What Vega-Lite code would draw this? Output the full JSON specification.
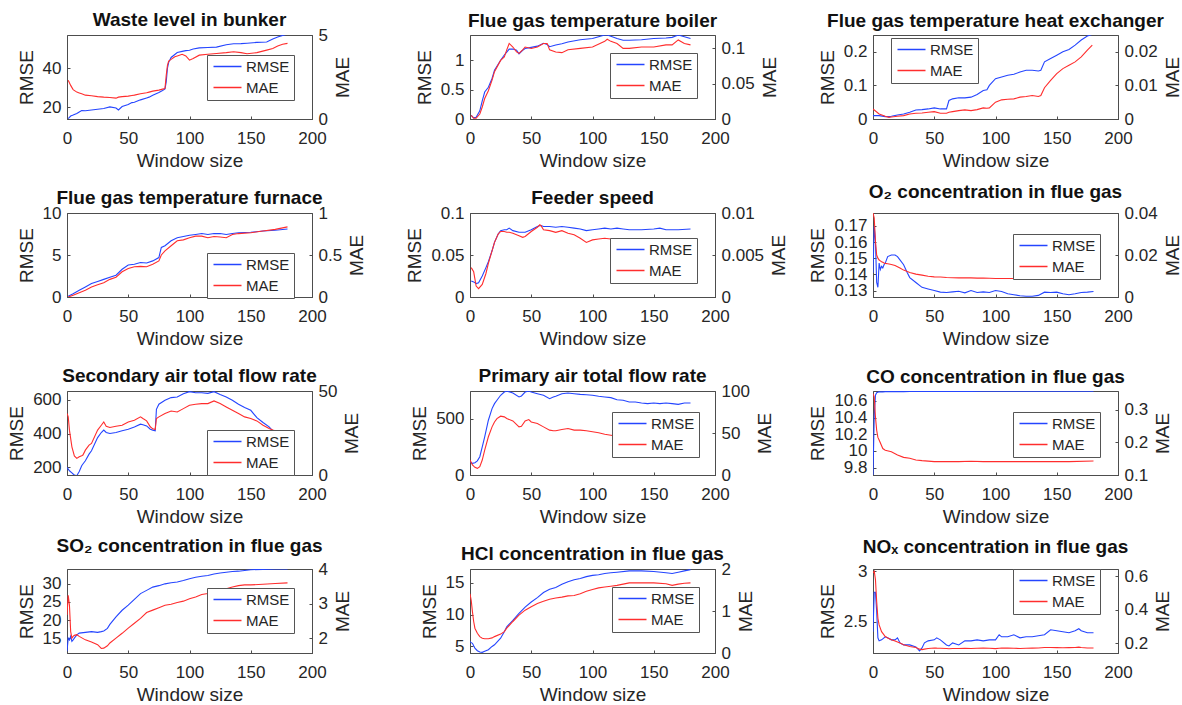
{
"$schema": "https://vega.github.io/schema/vega-lite/v6.json",
"padding": {"left": 7, "top": 10, "right": 2, "bottom": 2},
"bounds": "flush",
"columns": 3,
"spacing": {"row": 94, "column": 158},
"resolve": {"scale": {"color": "independent", "y": "independent", "x": "independent"}, "legend": {"color": "independent"}},
"config": {
  "font": "Liberation Sans",
  "view": {"stroke": "#4d4d4d", "strokeWidth": 1},
  "axis": {"grid": false, "labelFont": "Liberation Sans", "labelFontSize": 17, "labelColor": "#262626", "titleFont": "Liberation Sans", "titleFontSize": 19, "titleFontWeight": "normal", "titleColor": "#262626", "domainColor": "#4d4d4d", "tickColor": "#4d4d4d", "tickSize": -3, "labelFlush": false, "labelOverlap": false, "labelPadding": 9, "titlePadding": 6},
  "axisX": {"labelPadding": 14, "titlePadding": 5},
  "title": {"font": "Liberation Sans", "fontSize": 19, "fontWeight": "bold", "color": "#111111", "frame": "group", "anchor": "middle"},
  "legend": {"orient": "none", "fillColor": "white", "strokeColor": "#555555", "padding": 4, "symbolType": "M-1,0H4.6", "symbolSize": 100, "symbolStrokeWidth": 1.5, "labelFont": "Liberation Sans", "labelFontSize": 15, "labelColor": "#262626", "labelOffset": 20, "rowPadding": 5}
},
"datasets": {
"waste": [{"x":1,"rmse":14.2,"mae":2.3},{"x":3,"rmse":15.5,"mae":2.0},{"x":5,"rmse":16.0,"mae":1.75},{"x":8,"rmse":16.8,"mae":1.6},{"x":10,"rmse":17.6,"mae":1.55},{"x":12,"rmse":18.3,"mae":1.5},{"x":15,"rmse":18.2,"mae":1.42},{"x":20,"rmse":18.6,"mae":1.38},{"x":25,"rmse":19.0,"mae":1.33},{"x":30,"rmse":19.4,"mae":1.3},{"x":35,"rmse":20.2,"mae":1.28},{"x":40,"rmse":19.6,"mae":1.24},{"x":42,"rmse":18.6,"mae":1.3},{"x":45,"rmse":20.4,"mae":1.33},{"x":50,"rmse":21.4,"mae":1.36},{"x":53,"rmse":22.4,"mae":1.4},{"x":55,"rmse":22.6,"mae":1.42},{"x":60,"rmse":23.8,"mae":1.5},{"x":65,"rmse":24.8,"mae":1.56},{"x":67,"rmse":25.2,"mae":1.6},{"x":70,"rmse":26.2,"mae":1.66},{"x":75,"rmse":27.6,"mae":1.72},{"x":78,"rmse":28.6,"mae":1.78},{"x":80,"rmse":29.4,"mae":1.82},{"x":81,"rmse":33,"mae":2.6},{"x":82,"rmse":40,"mae":3.2},{"x":83,"rmse":43,"mae":3.45},{"x":85,"rmse":45.5,"mae":3.55},{"x":88,"rmse":47,"mae":3.7},{"x":90,"rmse":48,"mae":3.75},{"x":94,"rmse":48.6,"mae":3.85},{"x":97,"rmse":49,"mae":3.75},{"x":100,"rmse":49.2,"mae":3.5},{"x":103,"rmse":49.8,"mae":3.6},{"x":108,"rmse":50.4,"mae":3.8},{"x":115,"rmse":50.6,"mae":3.85},{"x":122,"rmse":50.8,"mae":3.9},{"x":130,"rmse":52,"mae":3.95},{"x":136,"rmse":52.5,"mae":4.0},{"x":142,"rmse":52.6,"mae":3.95},{"x":147,"rmse":52.8,"mae":3.88},{"x":155,"rmse":53.2,"mae":3.95},{"x":163,"rmse":53.4,"mae":4.1},{"x":168,"rmse":55,"mae":4.2},{"x":172,"rmse":56,"mae":4.35},{"x":176,"rmse":56.8,"mae":4.45},{"x":180,"rmse":57.5,"mae":4.5}],
"boiler": [{"x":1,"rmse":0.06,"mae":0.005},{"x":3,"rmse":0.02,"mae":0.001},{"x":5,"rmse":0.03,"mae":0.001},{"x":8,"rmse":0.14,"mae":0.007},{"x":10,"rmse":0.31,"mae":0.017},{"x":12,"rmse":0.46,"mae":0.029},{"x":15,"rmse":0.54,"mae":0.04},{"x":18,"rmse":0.69,"mae":0.055},{"x":20,"rmse":0.83,"mae":0.067},{"x":25,"rmse":1.0,"mae":0.083},{"x":28,"rmse":1.09,"mae":0.088},{"x":30,"rmse":1.14,"mae":0.098},{"x":32,"rmse":1.19,"mae":0.107},{"x":35,"rmse":1.19,"mae":0.102},{"x":38,"rmse":1.17,"mae":0.095},{"x":40,"rmse":1.11,"mae":0.093},{"x":43,"rmse":1.17,"mae":0.098},{"x":45,"rmse":1.2,"mae":0.102},{"x":50,"rmse":1.22,"mae":0.1},{"x":55,"rmse":1.24,"mae":0.102},{"x":60,"rmse":1.29,"mae":0.107},{"x":63,"rmse":1.27,"mae":0.107},{"x":65,"rmse":1.23,"mae":0.098},{"x":70,"rmse":1.26,"mae":0.095},{"x":75,"rmse":1.28,"mae":0.094},{"x":80,"rmse":1.31,"mae":0.098},{"x":90,"rmse":1.35,"mae":0.1},{"x":100,"rmse":1.37,"mae":0.102},{"x":110,"rmse":1.43,"mae":0.11},{"x":112,"rmse":1.43,"mae":0.113},{"x":115,"rmse":1.41,"mae":0.11},{"x":120,"rmse":1.37,"mae":0.107},{"x":125,"rmse":1.34,"mae":0.1},{"x":130,"rmse":1.34,"mae":0.1},{"x":140,"rmse":1.35,"mae":0.102},{"x":150,"rmse":1.37,"mae":0.102},{"x":160,"rmse":1.38,"mae":0.105},{"x":165,"rmse":1.39,"mae":0.105},{"x":170,"rmse":1.43,"mae":0.112},{"x":175,"rmse":1.4,"mae":0.107},{"x":180,"rmse":1.37,"mae":0.105}],
"exch": [{"x":0,"rmse":0.01,"mae":0.003},{"x":5,"rmse":0.01,"mae":0.0015},{"x":10,"rmse":0.007,"mae":0.0008},{"x":13,"rmse":0.007,"mae":0.0005},{"x":15,"rmse":0.008,"mae":0.0006},{"x":20,"rmse":0.012,"mae":0.0008},{"x":25,"rmse":0.015,"mae":0.001},{"x":30,"rmse":0.02,"mae":0.0015},{"x":35,"rmse":0.027,"mae":0.0017},{"x":40,"rmse":0.028,"mae":0.0018},{"x":45,"rmse":0.03,"mae":0.002},{"x":50,"rmse":0.033,"mae":0.0022},{"x":55,"rmse":0.03,"mae":0.0017},{"x":60,"rmse":0.03,"mae":0.0017},{"x":62,"rmse":0.055,"mae":0.002},{"x":65,"rmse":0.06,"mae":0.0022},{"x":70,"rmse":0.063,"mae":0.0025},{"x":75,"rmse":0.063,"mae":0.0027},{"x":80,"rmse":0.065,"mae":0.0025},{"x":85,"rmse":0.073,"mae":0.0028},{"x":90,"rmse":0.085,"mae":0.0033},{"x":93,"rmse":0.087,"mae":0.0032},{"x":95,"rmse":0.1,"mae":0.0033},{"x":100,"rmse":0.12,"mae":0.005},{"x":105,"rmse":0.125,"mae":0.0057},{"x":110,"rmse":0.13,"mae":0.0059},{"x":115,"rmse":0.133,"mae":0.006},{"x":120,"rmse":0.14,"mae":0.0065},{"x":125,"rmse":0.145,"mae":0.0067},{"x":130,"rmse":0.145,"mae":0.007},{"x":135,"rmse":0.143,"mae":0.0067},{"x":137,"rmse":0.145,"mae":0.007},{"x":140,"rmse":0.17,"mae":0.0093},{"x":145,"rmse":0.18,"mae":0.0115},{"x":150,"rmse":0.19,"mae":0.0135},{"x":155,"rmse":0.2,"mae":0.015},{"x":160,"rmse":0.207,"mae":0.016},{"x":165,"rmse":0.22,"mae":0.017},{"x":170,"rmse":0.235,"mae":0.0185},{"x":175,"rmse":0.247,"mae":0.0205},{"x":179,"rmse":0.252,"mae":0.022}],
"furnace": [{"x":1,"rmse":0.1,"mae":0.0},{"x":5,"rmse":0.4,"mae":0.02},{"x":10,"rmse":0.8,"mae":0.05},{"x":15,"rmse":1.2,"mae":0.08},{"x":20,"rmse":1.6,"mae":0.12},{"x":25,"rmse":1.85,"mae":0.145},{"x":30,"rmse":2.1,"mae":0.17},{"x":35,"rmse":2.35,"mae":0.21},{"x":40,"rmse":2.6,"mae":0.235},{"x":45,"rmse":3.3,"mae":0.3},{"x":50,"rmse":3.8,"mae":0.34},{"x":55,"rmse":3.9,"mae":0.36},{"x":60,"rmse":4.1,"mae":0.365},{"x":65,"rmse":4.05,"mae":0.36},{"x":70,"rmse":4.3,"mae":0.39},{"x":75,"rmse":4.7,"mae":0.43},{"x":77,"rmse":5.9,"mae":0.5},{"x":80,"rmse":6.1,"mae":0.55},{"x":85,"rmse":6.7,"mae":0.61},{"x":90,"rmse":7.05,"mae":0.67},{"x":95,"rmse":7.2,"mae":0.68},{"x":100,"rmse":7.35,"mae":0.705},{"x":105,"rmse":7.45,"mae":0.725},{"x":110,"rmse":7.55,"mae":0.725},{"x":115,"rmse":7.45,"mae":0.705},{"x":120,"rmse":7.55,"mae":0.72},{"x":125,"rmse":7.55,"mae":0.715},{"x":130,"rmse":7.45,"mae":0.705},{"x":135,"rmse":7.55,"mae":0.745},{"x":140,"rmse":7.65,"mae":0.755},{"x":150,"rmse":7.7,"mae":0.765},{"x":160,"rmse":7.85,"mae":0.785},{"x":170,"rmse":7.95,"mae":0.805},{"x":180,"rmse":8.1,"mae":0.835}],
"feeder": [{"x":1,"rmse":0.019,"mae":0.0035},{"x":3,"rmse":0.018,"mae":0.003},{"x":5,"rmse":0.016,"mae":0.0013},{"x":7,"rmse":0.017,"mae":0.001},{"x":10,"rmse":0.025,"mae":0.0015},{"x":13,"rmse":0.035,"mae":0.0028},{"x":15,"rmse":0.042,"mae":0.004},{"x":18,"rmse":0.055,"mae":0.0055},{"x":20,"rmse":0.065,"mae":0.0065},{"x":23,"rmse":0.075,"mae":0.0075},{"x":25,"rmse":0.079,"mae":0.0078},{"x":28,"rmse":0.08,"mae":0.0078},{"x":30,"rmse":0.08,"mae":0.0077},{"x":32,"rmse":0.082,"mae":0.0077},{"x":35,"rmse":0.079,"mae":0.0076},{"x":40,"rmse":0.077,"mae":0.0073},{"x":43,"rmse":0.077,"mae":0.0071},{"x":45,"rmse":0.077,"mae":0.0072},{"x":50,"rmse":0.08,"mae":0.0078},{"x":55,"rmse":0.084,"mae":0.0083},{"x":57,"rmse":0.085,"mae":0.0086},{"x":58,"rmse":0.085,"mae":0.0085},{"x":60,"rmse":0.084,"mae":0.008},{"x":65,"rmse":0.084,"mae":0.0079},{"x":70,"rmse":0.083,"mae":0.0077},{"x":75,"rmse":0.084,"mae":0.0079},{"x":80,"rmse":0.083,"mae":0.0076},{"x":85,"rmse":0.082,"mae":0.0074},{"x":90,"rmse":0.081,"mae":0.007},{"x":95,"rmse":0.079,"mae":0.0065},{"x":100,"rmse":0.08,"mae":0.0068},{"x":105,"rmse":0.081,"mae":0.0069},{"x":110,"rmse":0.082,"mae":0.007},{"x":115,"rmse":0.081,"mae":0.0069},{"x":120,"rmse":0.082,"mae":0.0069},{"x":125,"rmse":0.081,"mae":0.0068},{"x":130,"rmse":0.08,"mae":0.0068},{"x":140,"rmse":0.08,"mae":0.0068},{"x":150,"rmse":0.081,"mae":0.0068},{"x":155,"rmse":0.082,"mae":0.0068},{"x":160,"rmse":0.08,"mae":0.0068},{"x":170,"rmse":0.08,"mae":0.0068},{"x":180,"rmse":0.081,"mae":0.0068}],
"o2": [{"x":0,"rmse":0.141,"mae":0.04},{"x":1,"rmse":0.17,"mae":0.0376},{"x":2,"rmse":0.16,"mae":0.0264},{"x":3,"rmse":0.135,"mae":0.02},{"x":4,"rmse":0.132,"mae":0.0185},{"x":5,"rmse":0.147,"mae":0.0176},{"x":6,"rmse":0.143,"mae":0.0172},{"x":7,"rmse":0.145,"mae":0.0168},{"x":8,"rmse":0.144,"mae":0.0165},{"x":9,"rmse":0.146,"mae":0.0162},{"x":10,"rmse":0.147,"mae":0.016},{"x":12,"rmse":0.151,"mae":0.0158},{"x":15,"rmse":0.152,"mae":0.0155},{"x":18,"rmse":0.152,"mae":0.015},{"x":20,"rmse":0.151,"mae":0.0144},{"x":22,"rmse":0.149,"mae":0.0138},{"x":25,"rmse":0.146,"mae":0.0128},{"x":28,"rmse":0.141,"mae":0.0121},{"x":30,"rmse":0.138,"mae":0.0117},{"x":35,"rmse":0.135,"mae":0.0109},{"x":40,"rmse":0.132,"mae":0.0104},{"x":45,"rmse":0.131,"mae":0.0099},{"x":50,"rmse":0.13,"mae":0.0096},{"x":55,"rmse":0.129,"mae":0.0095},{"x":60,"rmse":0.1288,"mae":0.0093},{"x":65,"rmse":0.1292,"mae":0.0092},{"x":70,"rmse":0.1296,"mae":0.0091},{"x":75,"rmse":0.1286,"mae":0.0091},{"x":80,"rmse":0.13,"mae":0.0091},{"x":85,"rmse":0.1288,"mae":0.009},{"x":90,"rmse":0.1292,"mae":0.009},{"x":95,"rmse":0.1288,"mae":0.0089},{"x":100,"rmse":0.13,"mae":0.0088},{"x":105,"rmse":0.1294,"mae":0.0088},{"x":110,"rmse":0.128,"mae":0.0088},{"x":115,"rmse":0.1274,"mae":0.0088},{"x":120,"rmse":0.1268,"mae":0.0088},{"x":125,"rmse":0.1265,"mae":0.0088},{"x":130,"rmse":0.1265,"mae":0.0088},{"x":135,"rmse":0.127,"mae":0.0088},{"x":140,"rmse":0.129,"mae":0.0088},{"x":145,"rmse":0.1288,"mae":0.0088},{"x":150,"rmse":0.129,"mae":0.0088},{"x":155,"rmse":0.128,"mae":0.0087},{"x":160,"rmse":0.1274,"mae":0.0087},{"x":165,"rmse":0.128,"mae":0.0087},{"x":170,"rmse":0.1288,"mae":0.0088},{"x":175,"rmse":0.129,"mae":0.0088},{"x":180,"rmse":0.1294,"mae":0.0088}],
"sec": [{"x":0,"rmse":200,"mae":36.6},{"x":1,"rmse":190,"mae":34.6},{"x":2,"rmse":180,"mae":26.7},{"x":4,"rmse":168,"mae":16.8},{"x":5,"rmse":161,"mae":14},{"x":6,"rmse":155,"mae":11.3},{"x":8,"rmse":151,"mae":9.9},{"x":10,"rmse":176,"mae":10.9},{"x":12,"rmse":210,"mae":11.5},{"x":13,"rmse":220,"mae":11.9},{"x":15,"rmse":239,"mae":14.8},{"x":18,"rmse":278,"mae":17.8},{"x":20,"rmse":298,"mae":18.8},{"x":25,"rmse":376,"mae":26.7},{"x":28,"rmse":406,"mae":29.6},{"x":30,"rmse":420,"mae":31.6},{"x":32,"rmse":406,"mae":29},{"x":35,"rmse":400,"mae":28.3},{"x":40,"rmse":406,"mae":29},{"x":45,"rmse":416,"mae":29.6},{"x":50,"rmse":425,"mae":31.6},{"x":55,"rmse":439,"mae":32.6},{"x":60,"rmse":455,"mae":34.6},{"x":62,"rmse":452,"mae":33.6},{"x":65,"rmse":445,"mae":32.2},{"x":68,"rmse":425,"mae":28.7},{"x":70,"rmse":420,"mae":27.5},{"x":72,"rmse":416,"mae":27.1},{"x":73,"rmse":543,"mae":33.6},{"x":75,"rmse":573,"mae":34.6},{"x":80,"rmse":596,"mae":36.6},{"x":85,"rmse":612,"mae":38.1},{"x":90,"rmse":616,"mae":37.5},{"x":95,"rmse":635,"mae":39.5},{"x":100,"rmse":647,"mae":41.5},{"x":105,"rmse":641,"mae":42.1},{"x":110,"rmse":641,"mae":42.5},{"x":115,"rmse":637,"mae":42.5},{"x":120,"rmse":647,"mae":44.1},{"x":125,"rmse":631,"mae":42.5},{"x":130,"rmse":616,"mae":40.5},{"x":135,"rmse":596,"mae":38.5},{"x":140,"rmse":573,"mae":36.6},{"x":145,"rmse":553,"mae":34.6},{"x":150,"rmse":537,"mae":33.6},{"x":155,"rmse":494,"mae":32.2},{"x":160,"rmse":465,"mae":29.6},{"x":165,"rmse":439,"mae":27.7},{"x":168,"rmse":416,"mae":26.8},{"x":170,"rmse":406,"mae":26.3},{"x":175,"rmse":386,"mae":24.7},{"x":180,"rmse":373,"mae":23.7}],
"prim": [{"x":0,"rmse":118,"mae":17.8},{"x":2,"rmse":103,"mae":11.9},{"x":4,"rmse":109,"mae":9.1},{"x":6,"rmse":125,"mae":7.9},{"x":8,"rmse":162,"mae":9.9},{"x":10,"rmse":250,"mae":17.8},{"x":12,"rmse":338,"mae":29.6},{"x":15,"rmse":485,"mae":45.5},{"x":18,"rmse":588,"mae":57.3},{"x":20,"rmse":632,"mae":63.2},{"x":22,"rmse":662,"mae":67.2},{"x":25,"rmse":706,"mae":70},{"x":28,"rmse":735,"mae":69.2},{"x":30,"rmse":744,"mae":67.2},{"x":35,"rmse":726,"mae":64.4},{"x":40,"rmse":691,"mae":57.3},{"x":42,"rmse":700,"mae":58.1},{"x":45,"rmse":735,"mae":64.4},{"x":48,"rmse":744,"mae":66},{"x":50,"rmse":735,"mae":63.2},{"x":55,"rmse":720,"mae":61.3},{"x":60,"rmse":706,"mae":57.3},{"x":65,"rmse":676,"mae":53.4},{"x":68,"rmse":691,"mae":52.6},{"x":70,"rmse":697,"mae":52.6},{"x":75,"rmse":720,"mae":54.2},{"x":80,"rmse":726,"mae":55.3},{"x":85,"rmse":720,"mae":53.4},{"x":90,"rmse":714,"mae":53.4},{"x":95,"rmse":711,"mae":52.6},{"x":100,"rmse":706,"mae":51.4},{"x":105,"rmse":697,"mae":50.2},{"x":110,"rmse":691,"mae":48.6},{"x":115,"rmse":685,"mae":47.4},{"x":120,"rmse":667,"mae":46.2},{"x":125,"rmse":662,"mae":45.5},{"x":130,"rmse":647,"mae":44.7},{"x":135,"rmse":647,"mae":44.2},{"x":140,"rmse":638,"mae":43.8},{"x":145,"rmse":632,"mae":43.2},{"x":150,"rmse":638,"mae":42.8},{"x":155,"rmse":632,"mae":42.5},{"x":160,"rmse":638,"mae":42.3},{"x":165,"rmse":632,"mae":42.3},{"x":170,"rmse":626,"mae":42.3},{"x":175,"rmse":638,"mae":42.2},{"x":180,"rmse":638,"mae":42.3}],
"co": [{"x":0,"rmse":9.71,"mae":0.349},{"x":1,"rmse":10.42,"mae":0.339},{"x":2,"rmse":10.67,"mae":0.278},{"x":3,"rmse":10.7,"mae":0.237},{"x":4,"rmse":10.705,"mae":0.215},{"x":5,"rmse":10.71,"mae":0.207},{"x":8,"rmse":10.71,"mae":0.181},{"x":10,"rmse":10.712,"mae":0.176},{"x":15,"rmse":10.712,"mae":0.171},{"x":20,"rmse":10.713,"mae":0.161},{"x":25,"rmse":10.713,"mae":0.154},{"x":30,"rmse":10.714,"mae":0.151},{"x":35,"rmse":10.714,"mae":0.146},{"x":40,"rmse":10.714,"mae":0.144},{"x":50,"rmse":10.715,"mae":0.141},{"x":60,"rmse":10.716,"mae":0.141},{"x":70,"rmse":10.716,"mae":0.141},{"x":80,"rmse":10.716,"mae":0.142},{"x":90,"rmse":10.717,"mae":0.141},{"x":100,"rmse":10.717,"mae":0.141},{"x":120,"rmse":10.717,"mae":0.141},{"x":140,"rmse":10.718,"mae":0.141},{"x":160,"rmse":10.718,"mae":0.141},{"x":180,"rmse":10.718,"mae":0.143}],
"so2": [{"x":0,"rmse":11.4,"mae":2.67},{"x":1,"rmse":15.0,"mae":3.24},{"x":2,"rmse":14.5,"mae":2.95},{"x":3,"rmse":15.5,"mae":2.19},{"x":4,"rmse":14.1,"mae":2.0},{"x":5,"rmse":14.5,"mae":2.05},{"x":6,"rmse":15.0,"mae":2.08},{"x":8,"rmse":15.9,"mae":2.1},{"x":10,"rmse":16.4,"mae":2.05},{"x":15,"rmse":16.6,"mae":1.95},{"x":20,"rmse":16.8,"mae":1.89},{"x":25,"rmse":16.6,"mae":1.81},{"x":28,"rmse":16.8,"mae":1.7},{"x":30,"rmse":17.0,"mae":1.71},{"x":33,"rmse":17.7,"mae":1.78},{"x":35,"rmse":18.8,"mae":1.86},{"x":40,"rmse":20.9,"mae":2.0},{"x":45,"rmse":22.7,"mae":2.14},{"x":50,"rmse":24.1,"mae":2.29},{"x":55,"rmse":25.7,"mae":2.43},{"x":60,"rmse":27.3,"mae":2.57},{"x":65,"rmse":28.2,"mae":2.74},{"x":70,"rmse":29.1,"mae":2.81},{"x":75,"rmse":29.5,"mae":2.88},{"x":80,"rmse":30.0,"mae":2.95},{"x":85,"rmse":30.3,"mae":2.98},{"x":90,"rmse":30.5,"mae":3.03},{"x":95,"rmse":30.9,"mae":3.07},{"x":100,"rmse":31.4,"mae":3.14},{"x":105,"rmse":31.8,"mae":3.19},{"x":110,"rmse":32.1,"mae":3.26},{"x":115,"rmse":32.3,"mae":3.29},{"x":120,"rmse":32.7,"mae":3.33},{"x":125,"rmse":33.0,"mae":3.38},{"x":130,"rmse":33.2,"mae":3.43},{"x":135,"rmse":33.4,"mae":3.48},{"x":140,"rmse":33.5,"mae":3.52},{"x":145,"rmse":33.7,"mae":3.54},{"x":150,"rmse":33.9,"mae":3.54},{"x":160,"rmse":34.0,"mae":3.56},{"x":170,"rmse":34.1,"mae":3.58},{"x":180,"rmse":34.1,"mae":3.6}],
"hcl": [{"x":0,"rmse":5.77,"mae":1.41},{"x":1,"rmse":5.6,"mae":1.25},{"x":2,"rmse":5.5,"mae":0.98},{"x":3,"rmse":5.1,"mae":0.75},{"x":4,"rmse":4.74,"mae":0.59},{"x":6,"rmse":4.33,"mae":0.47},{"x":8,"rmse":4.12,"mae":0.39},{"x":10,"rmse":4.07,"mae":0.35},{"x":12,"rmse":4.23,"mae":0.34},{"x":15,"rmse":4.48,"mae":0.34},{"x":18,"rmse":5.0,"mae":0.36},{"x":20,"rmse":5.26,"mae":0.39},{"x":25,"rmse":6.3,"mae":0.45},{"x":28,"rmse":7.3,"mae":0.51},{"x":30,"rmse":8.1,"mae":0.59},{"x":35,"rmse":9.1,"mae":0.75},{"x":40,"rmse":10.2,"mae":0.9},{"x":45,"rmse":11.2,"mae":1.02},{"x":50,"rmse":12.0,"mae":1.1},{"x":55,"rmse":12.7,"mae":1.18},{"x":60,"rmse":13.5,"mae":1.23},{"x":65,"rmse":14.0,"mae":1.28},{"x":70,"rmse":14.3,"mae":1.31},{"x":75,"rmse":14.8,"mae":1.33},{"x":80,"rmse":15.2,"mae":1.36},{"x":85,"rmse":15.5,"mae":1.37},{"x":90,"rmse":15.7,"mae":1.41},{"x":95,"rmse":16.0,"mae":1.47},{"x":100,"rmse":16.2,"mae":1.51},{"x":105,"rmse":16.3,"mae":1.55},{"x":110,"rmse":16.5,"mae":1.57},{"x":115,"rmse":16.6,"mae":1.59},{"x":120,"rmse":16.7,"mae":1.61},{"x":130,"rmse":16.9,"mae":1.67},{"x":140,"rmse":16.9,"mae":1.67},{"x":150,"rmse":16.8,"mae":1.67},{"x":160,"rmse":16.6,"mae":1.65},{"x":165,"rmse":16.5,"mae":1.61},{"x":170,"rmse":16.7,"mae":1.64},{"x":175,"rmse":16.9,"mae":1.66},{"x":180,"rmse":17.1,"mae":1.67}],
"nox": [{"x":0,"rmse":2.4,"mae":0.62},{"x":1,"rmse":2.79,"mae":0.63},{"x":2,"rmse":2.79,"mae":0.58},{"x":3,"rmse":2.6,"mae":0.45},{"x":4,"rmse":2.34,"mae":0.35},{"x":5,"rmse":2.31,"mae":0.31},{"x":7,"rmse":2.32,"mae":0.27},{"x":10,"rmse":2.35,"mae":0.241},{"x":12,"rmse":2.34,"mae":0.232},{"x":15,"rmse":2.32,"mae":0.222},{"x":18,"rmse":2.32,"mae":0.214},{"x":20,"rmse":2.34,"mae":0.208},{"x":22,"rmse":2.29,"mae":0.202},{"x":25,"rmse":2.27,"mae":0.192},{"x":30,"rmse":2.27,"mae":0.182},{"x":35,"rmse":2.25,"mae":0.176},{"x":38,"rmse":2.21,"mae":0.166},{"x":40,"rmse":2.24,"mae":0.163},{"x":42,"rmse":2.29,"mae":0.166},{"x":45,"rmse":2.31,"mae":0.17},{"x":50,"rmse":2.32,"mae":0.173},{"x":52,"rmse":2.34,"mae":0.172},{"x":55,"rmse":2.32,"mae":0.171},{"x":60,"rmse":2.27,"mae":0.17},{"x":62,"rmse":2.26,"mae":0.168},{"x":65,"rmse":2.29,"mae":0.17},{"x":70,"rmse":2.27,"mae":0.17},{"x":75,"rmse":2.31,"mae":0.171},{"x":80,"rmse":2.31,"mae":0.17},{"x":85,"rmse":2.32,"mae":0.171},{"x":90,"rmse":2.31,"mae":0.172},{"x":95,"rmse":2.32,"mae":0.171},{"x":100,"rmse":2.32,"mae":0.169},{"x":103,"rmse":2.37,"mae":0.171},{"x":105,"rmse":2.35,"mae":0.172},{"x":110,"rmse":2.35,"mae":0.172},{"x":115,"rmse":2.37,"mae":0.171},{"x":120,"rmse":2.34,"mae":0.17},{"x":125,"rmse":2.35,"mae":0.171},{"x":130,"rmse":2.35,"mae":0.172},{"x":135,"rmse":2.36,"mae":0.173},{"x":140,"rmse":2.37,"mae":0.176},{"x":145,"rmse":2.42,"mae":0.176},{"x":150,"rmse":2.41,"mae":0.175},{"x":155,"rmse":2.4,"mae":0.174},{"x":160,"rmse":2.39,"mae":0.175},{"x":165,"rmse":2.41,"mae":0.176},{"x":168,"rmse":2.43,"mae":0.178},{"x":170,"rmse":2.41,"mae":0.176},{"x":175,"rmse":2.39,"mae":0.173},{"x":180,"rmse":2.39,"mae":0.173}]
},
"concat": [
{"width": 245, "height": 84, "title": {"text": "Waste level in bunker", "offset": -4}, "data": {"name": "waste"},
 "layer": [
  {"mark": {"type": "line", "clip": true, "strokeWidth": 1.1}, "encoding": {
    "x": {"field": "x", "type": "quantitative", "scale": {"domain": [0, 200]}, "axis": {"values": [0, 50, 100, 150, 200], "title": "Window size"}},
    "y": {"field": "rmse", "type": "quantitative", "scale": {"domain": [14, 57], "nice": false, "zero": false}, "axis": {"values": [20, 40], "format": ".6~g", "title": "RMSE"}},
    "color": {"datum": "RMSE", "type": "nominal", "scale": {"domain": ["RMSE", "MAE"], "range": ["#2445ff", "#ff2d2d"]}, "legend": {"title": null, "legendX": 140, "legendY": 20}}}},
  {"mark": {"type": "line", "clip": true, "strokeWidth": 1.1}, "encoding": {
    "x": {"field": "x", "type": "quantitative", "scale": {"domain": [0, 200]}, "axis": {"values": [0, 50, 100, 150, 200], "title": "Window size"}},
    "y": {"field": "mae", "type": "quantitative", "scale": {"domain": [0, 5], "nice": false, "zero": false}, "axis": {"orient": "right", "values": [0, 5], "format": ".6~g", "title": "MAE", "titleAngle": 270, "titleBaseline": "top"}},
    "color": {"datum": "MAE", "type": "nominal", "scale": {"domain": ["RMSE", "MAE"], "range": ["#2445ff", "#ff2d2d"]}, "legend": {"title": null, "legendX": 140, "legendY": 20}}}}
 ], "resolve": {"scale": {"y": "independent"}}},
{"width": 245, "height": 84, "title": {"text": "Flue gas temperature boiler", "offset": 4}, "data": {"name": "boiler"},
 "layer": [
  {"mark": {"type": "line", "clip": true, "strokeWidth": 1.1}, "encoding": {
    "x": {"field": "x", "type": "quantitative", "scale": {"domain": [0, 200]}, "axis": {"values": [0, 50, 100, 150, 200], "title": "Window size"}},
    "y": {"field": "rmse", "type": "quantitative", "scale": {"domain": [0, 1.43], "nice": false, "zero": false}, "axis": {"values": [0, 0.5, 1], "format": ".6~g", "title": "RMSE"}},
    "color": {"datum": "RMSE", "type": "nominal", "scale": {"domain": ["RMSE", "MAE"], "range": ["#2445ff", "#ff2d2d"]}, "legend": {"title": null, "legendX": 140, "legendY": 18}}}},
  {"mark": {"type": "line", "clip": true, "strokeWidth": 1.1}, "encoding": {
    "x": {"field": "x", "type": "quantitative", "scale": {"domain": [0, 200]}, "axis": {"values": [0, 50, 100, 150, 200], "title": "Window size"}},
    "y": {"field": "mae", "type": "quantitative", "scale": {"domain": [0, 0.119], "nice": false, "zero": false}, "axis": {"orient": "right", "values": [0, 0.05, 0.1], "format": ".6~g", "title": "MAE", "titleAngle": 270, "titleBaseline": "top"}},
    "color": {"datum": "MAE", "type": "nominal", "scale": {"domain": ["RMSE", "MAE"], "range": ["#2445ff", "#ff2d2d"]}, "legend": {"title": null, "legendX": 140, "legendY": 18}}}}
 ], "resolve": {"scale": {"y": "independent"}}},
{"width": 245, "height": 84, "title": {"text": "Flue gas temperature heat exchanger", "offset": 4}, "data": {"name": "exch"},
 "layer": [
  {"mark": {"type": "line", "clip": true, "strokeWidth": 1.1}, "encoding": {
    "x": {"field": "x", "type": "quantitative", "scale": {"domain": [0, 200]}, "axis": {"values": [0, 50, 100, 150, 200], "title": "Window size"}},
    "y": {"field": "rmse", "type": "quantitative", "scale": {"domain": [0, 0.25], "nice": false, "zero": false}, "axis": {"values": [0, 0.1, 0.2], "format": ".6~g", "title": "RMSE"}},
    "color": {"datum": "RMSE", "type": "nominal", "scale": {"domain": ["RMSE", "MAE"], "range": ["#2445ff", "#ff2d2d"]}, "legend": {"title": null, "legendX": 18, "legendY": 3}}}},
  {"mark": {"type": "line", "clip": true, "strokeWidth": 1.1}, "encoding": {
    "x": {"field": "x", "type": "quantitative", "scale": {"domain": [0, 200]}, "axis": {"values": [0, 50, 100, 150, 200], "title": "Window size"}},
    "y": {"field": "mae", "type": "quantitative", "scale": {"domain": [0, 0.025], "nice": false, "zero": false}, "axis": {"orient": "right", "values": [0, 0.01, 0.02], "format": ".6~g", "title": "MAE", "titleAngle": 270, "titleBaseline": "top"}},
    "color": {"datum": "MAE", "type": "nominal", "scale": {"domain": ["RMSE", "MAE"], "range": ["#2445ff", "#ff2d2d"]}, "legend": {"title": null, "legendX": 18, "legendY": 3}}}}
 ], "resolve": {"scale": {"y": "independent"}}},
{"width": 245, "height": 84, "title": {"text": "Flue gas temperature furnace", "offset": -4}, "data": {"name": "furnace"},
 "layer": [
  {"mark": {"type": "line", "clip": true, "strokeWidth": 1.1}, "encoding": {
    "x": {"field": "x", "type": "quantitative", "scale": {"domain": [0, 200]}, "axis": {"values": [0, 50, 100, 150, 200], "title": "Window size"}},
    "y": {"field": "rmse", "type": "quantitative", "scale": {"domain": [0, 10], "nice": false, "zero": false}, "axis": {"values": [0, 5, 10], "format": ".6~g", "title": "RMSE"}},
    "color": {"datum": "RMSE", "type": "nominal", "scale": {"domain": ["RMSE", "MAE"], "range": ["#2445ff", "#ff2d2d"]}, "legend": {"title": null, "legendX": 140, "legendY": 40}}}},
  {"mark": {"type": "line", "clip": true, "strokeWidth": 1.1}, "encoding": {
    "x": {"field": "x", "type": "quantitative", "scale": {"domain": [0, 200]}, "axis": {"values": [0, 50, 100, 150, 200], "title": "Window size"}},
    "y": {"field": "mae", "type": "quantitative", "scale": {"domain": [0, 1], "nice": false, "zero": false}, "axis": {"orient": "right", "values": [0, 0.5, 1], "format": ".6~g", "title": "MAE", "titleAngle": 270, "titleBaseline": "top"}},
    "color": {"datum": "MAE", "type": "nominal", "scale": {"domain": ["RMSE", "MAE"], "range": ["#2445ff", "#ff2d2d"]}, "legend": {"title": null, "legendX": 140, "legendY": 40}}}}
 ], "resolve": {"scale": {"y": "independent"}}},
{"width": 245, "height": 84, "title": {"text": "Feeder speed", "offset": -4}, "data": {"name": "feeder"},
 "layer": [
  {"mark": {"type": "line", "clip": true, "strokeWidth": 1.1}, "encoding": {
    "x": {"field": "x", "type": "quantitative", "scale": {"domain": [0, 200]}, "axis": {"values": [0, 50, 100, 150, 200], "title": "Window size"}},
    "y": {"field": "rmse", "type": "quantitative", "scale": {"domain": [0, 0.1], "nice": false, "zero": false}, "axis": {"values": [0, 0.05, 0.1], "format": ".6~g", "title": "RMSE"}},
    "color": {"datum": "RMSE", "type": "nominal", "scale": {"domain": ["RMSE", "MAE"], "range": ["#2445ff", "#ff2d2d"]}, "legend": {"title": null, "legendX": 140, "legendY": 25}}}},
  {"mark": {"type": "line", "clip": true, "strokeWidth": 1.1}, "encoding": {
    "x": {"field": "x", "type": "quantitative", "scale": {"domain": [0, 200]}, "axis": {"values": [0, 50, 100, 150, 200], "title": "Window size"}},
    "y": {"field": "mae", "type": "quantitative", "scale": {"domain": [0, 0.01], "nice": false, "zero": false}, "axis": {"orient": "right", "values": [0, 0.005, 0.01], "format": ".6~g", "title": "MAE", "titleAngle": 270, "titleBaseline": "top"}},
    "color": {"datum": "MAE", "type": "nominal", "scale": {"domain": ["RMSE", "MAE"], "range": ["#2445ff", "#ff2d2d"]}, "legend": {"title": null, "legendX": 140, "legendY": 25}}}}
 ], "resolve": {"scale": {"y": "independent"}}},
{"width": 245, "height": 84, "title": {"text": "O₂ concentration in flue gas", "offset": 2}, "data": {"name": "o2"},
 "layer": [
  {"mark": {"type": "line", "clip": true, "strokeWidth": 1.1}, "encoding": {
    "x": {"field": "x", "type": "quantitative", "scale": {"domain": [0, 200]}, "axis": {"values": [0, 50, 100, 150, 200], "title": "Window size"}},
    "y": {"field": "rmse", "type": "quantitative", "scale": {"domain": [0.126, 0.178], "nice": false, "zero": false}, "axis": {"values": [0.13, 0.14, 0.15, 0.16, 0.17], "format": ".6~g", "title": "RMSE"}},
    "color": {"datum": "RMSE", "type": "nominal", "scale": {"domain": ["RMSE", "MAE"], "range": ["#2445ff", "#ff2d2d"]}, "legend": {"title": null, "legendX": 140, "legendY": 21}}}},
  {"mark": {"type": "line", "clip": true, "strokeWidth": 1.1}, "encoding": {
    "x": {"field": "x", "type": "quantitative", "scale": {"domain": [0, 200]}, "axis": {"values": [0, 50, 100, 150, 200], "title": "Window size"}},
    "y": {"field": "mae", "type": "quantitative", "scale": {"domain": [0, 0.04], "nice": false, "zero": false}, "axis": {"orient": "right", "values": [0, 0.02, 0.04], "format": ".6~g", "title": "MAE", "titleAngle": 270, "titleBaseline": "top"}},
    "color": {"datum": "MAE", "type": "nominal", "scale": {"domain": ["RMSE", "MAE"], "range": ["#2445ff", "#ff2d2d"]}, "legend": {"title": null, "legendX": 140, "legendY": 21}}}}
 ], "resolve": {"scale": {"y": "independent"}}},
{"width": 245, "height": 84, "title": {"text": "Secondary air total flow rate", "offset": -4}, "data": {"name": "sec"},
 "layer": [
  {"mark": {"type": "line", "clip": true, "strokeWidth": 1.1}, "encoding": {
    "x": {"field": "x", "type": "quantitative", "scale": {"domain": [0, 200]}, "axis": {"values": [0, 50, 100, 150, 200], "title": "Window size"}},
    "y": {"field": "rmse", "type": "quantitative", "scale": {"domain": [155, 651], "nice": false, "zero": false}, "axis": {"values": [200, 400, 600], "format": ".6~g", "title": "RMSE"}},
    "color": {"datum": "RMSE", "type": "nominal", "scale": {"domain": ["RMSE", "MAE"], "range": ["#2445ff", "#ff2d2d"]}, "legend": {"title": null, "legendX": 140, "legendY": 39}}}},
  {"mark": {"type": "line", "clip": true, "strokeWidth": 1.1}, "encoding": {
    "x": {"field": "x", "type": "quantitative", "scale": {"domain": [0, 200]}, "axis": {"values": [0, 50, 100, 150, 200], "title": "Window size"}},
    "y": {"field": "mae", "type": "quantitative", "scale": {"domain": [0, 50], "nice": false, "zero": false}, "axis": {"orient": "right", "values": [0, 50], "format": ".6~g", "title": "MAE", "titleAngle": 270, "titleBaseline": "top"}},
    "color": {"datum": "MAE", "type": "nominal", "scale": {"domain": ["RMSE", "MAE"], "range": ["#2445ff", "#ff2d2d"]}, "legend": {"title": null, "legendX": 140, "legendY": 39}}}}
 ], "resolve": {"scale": {"y": "independent"}}},
{"width": 245, "height": 84, "title": {"text": "Primary air total flow rate", "offset": -4}, "data": {"name": "prim"},
 "layer": [
  {"mark": {"type": "line", "clip": true, "strokeWidth": 1.1}, "encoding": {
    "x": {"field": "x", "type": "quantitative", "scale": {"domain": [0, 200]}, "axis": {"values": [0, 50, 100, 150, 200], "title": "Window size"}},
    "y": {"field": "rmse", "type": "quantitative", "scale": {"domain": [0, 744], "nice": false, "zero": false}, "axis": {"values": [0, 500], "format": ".6~g", "title": "RMSE"}},
    "color": {"datum": "RMSE", "type": "nominal", "scale": {"domain": ["RMSE", "MAE"], "range": ["#2445ff", "#ff2d2d"]}, "legend": {"title": null, "legendX": 142, "legendY": 21}}}},
  {"mark": {"type": "line", "clip": true, "strokeWidth": 1.1}, "encoding": {
    "x": {"field": "x", "type": "quantitative", "scale": {"domain": [0, 200]}, "axis": {"values": [0, 50, 100, 150, 200], "title": "Window size"}},
    "y": {"field": "mae", "type": "quantitative", "scale": {"domain": [0, 100], "nice": false, "zero": false}, "axis": {"orient": "right", "values": [0, 50, 100], "format": ".6~g", "title": "MAE", "titleAngle": 270, "titleBaseline": "top"}},
    "color": {"datum": "MAE", "type": "nominal", "scale": {"domain": ["RMSE", "MAE"], "range": ["#2445ff", "#ff2d2d"]}, "legend": {"title": null, "legendX": 142, "legendY": 21}}}}
 ], "resolve": {"scale": {"y": "independent"}}},
{"width": 245, "height": 84, "title": {"text": "CO concentration in flue gas", "offset": 4}, "data": {"name": "co"},
 "layer": [
  {"mark": {"type": "line", "clip": true, "strokeWidth": 1.1}, "encoding": {
    "x": {"field": "x", "type": "quantitative", "scale": {"domain": [0, 200]}, "axis": {"values": [0, 50, 100, 150, 200], "title": "Window size"}},
    "y": {"field": "rmse", "type": "quantitative", "scale": {"domain": [9.71, 10.72], "nice": false, "zero": false}, "axis": {"values": [9.8, 10, 10.2, 10.4, 10.6], "format": ".6~g", "title": "RMSE"}},
    "color": {"datum": "RMSE", "type": "nominal", "scale": {"domain": ["RMSE", "MAE"], "range": ["#2445ff", "#ff2d2d"]}, "legend": {"title": null, "legendX": 140, "legendY": 21}}}},
  {"mark": {"type": "line", "clip": true, "strokeWidth": 1.1}, "encoding": {
    "x": {"field": "x", "type": "quantitative", "scale": {"domain": [0, 200]}, "axis": {"values": [0, 50, 100, 150, 200], "title": "Window size"}},
    "y": {"field": "mae", "type": "quantitative", "scale": {"domain": [0.1, 0.357], "nice": false, "zero": false}, "axis": {"orient": "right", "values": [0.1, 0.2, 0.3], "format": ".6~g", "title": "MAE", "titleAngle": 270, "titleBaseline": "top"}},
    "color": {"datum": "MAE", "type": "nominal", "scale": {"domain": ["RMSE", "MAE"], "range": ["#2445ff", "#ff2d2d"]}, "legend": {"title": null, "legendX": 140, "legendY": 21}}}}
 ], "resolve": {"scale": {"y": "independent"}}},
{"width": 245, "height": 84, "title": {"text": "SO₂ concentration in flue gas", "offset": 4}, "data": {"name": "so2"},
 "layer": [
  {"mark": {"type": "line", "clip": true, "strokeWidth": 1.1}, "encoding": {
    "x": {"field": "x", "type": "quantitative", "scale": {"domain": [0, 200]}, "axis": {"values": [0, 50, 100, 150, 200], "title": "Window size"}},
    "y": {"field": "rmse", "type": "quantitative", "scale": {"domain": [10.9, 34.1], "nice": false, "zero": false}, "axis": {"values": [15, 20, 25, 30], "format": ".6~g", "title": "RMSE"}},
    "color": {"datum": "RMSE", "type": "nominal", "scale": {"domain": ["RMSE", "MAE"], "range": ["#2445ff", "#ff2d2d"]}, "legend": {"title": null, "legendX": 140, "legendY": 19}}}},
  {"mark": {"type": "line", "clip": true, "strokeWidth": 1.1}, "encoding": {
    "x": {"field": "x", "type": "quantitative", "scale": {"domain": [0, 200]}, "axis": {"values": [0, 50, 100, 150, 200], "title": "Window size"}},
    "y": {"field": "mae", "type": "quantitative", "scale": {"domain": [1.57, 4], "nice": false, "zero": false}, "axis": {"orient": "right", "values": [2, 3, 4], "format": ".6~g", "title": "MAE", "titleAngle": 270, "titleBaseline": "top"}},
    "color": {"datum": "MAE", "type": "nominal", "scale": {"domain": ["RMSE", "MAE"], "range": ["#2445ff", "#ff2d2d"]}, "legend": {"title": null, "legendX": 140, "legendY": 19}}}}
 ], "resolve": {"scale": {"y": "independent"}}},
{"width": 245, "height": 84, "title": {"text": "HCl concentration in flue gas", "offset": -4}, "data": {"name": "hcl"},
 "layer": [
  {"mark": {"type": "line", "clip": true, "strokeWidth": 1.1}, "encoding": {
    "x": {"field": "x", "type": "quantitative", "scale": {"domain": [0, 200]}, "axis": {"values": [0, 50, 100, 150, 200], "title": "Window size"}},
    "y": {"field": "rmse", "type": "quantitative", "scale": {"domain": [3.97, 17.2], "nice": false, "zero": false}, "axis": {"values": [5, 10, 15], "format": ".6~g", "title": "RMSE"}},
    "color": {"datum": "RMSE", "type": "nominal", "scale": {"domain": ["RMSE", "MAE"], "range": ["#2445ff", "#ff2d2d"]}, "legend": {"title": null, "legendX": 142, "legendY": 18}}}},
  {"mark": {"type": "line", "clip": true, "strokeWidth": 1.1}, "encoding": {
    "x": {"field": "x", "type": "quantitative", "scale": {"domain": [0, 200]}, "axis": {"values": [0, 50, 100, 150, 200], "title": "Window size"}},
    "y": {"field": "mae", "type": "quantitative", "scale": {"domain": [0, 2], "nice": false, "zero": false}, "axis": {"orient": "right", "values": [0, 1, 2], "format": ".6~g", "title": "MAE", "titleAngle": 270, "titleBaseline": "top"}},
    "color": {"datum": "MAE", "type": "nominal", "scale": {"domain": ["RMSE", "MAE"], "range": ["#2445ff", "#ff2d2d"]}, "legend": {"title": null, "legendX": 142, "legendY": 18}}}}
 ], "resolve": {"scale": {"y": "independent"}}},
{"width": 245, "height": 84, "title": {"text": "NOₓ concentration in flue gas", "offset": 5}, "data": {"name": "nox"},
 "layer": [
  {"mark": {"type": "line", "clip": true, "strokeWidth": 1.1}, "encoding": {
    "x": {"field": "x", "type": "quantitative", "scale": {"domain": [0, 200]}, "axis": {"values": [0, 50, 100, 150, 200], "title": "Window size"}},
    "y": {"field": "rmse", "type": "quantitative", "scale": {"domain": [2.19, 3.02], "nice": false, "zero": false}, "axis": {"values": [2.5, 3], "format": ".6~g", "title": "RMSE"}},
    "color": {"datum": "RMSE", "type": "nominal", "scale": {"domain": ["RMSE", "MAE"], "range": ["#2445ff", "#ff2d2d"]}, "legend": {"title": null, "legendX": 140, "legendY": 0}}}},
  {"mark": {"type": "line", "clip": true, "strokeWidth": 1.1}, "encoding": {
    "x": {"field": "x", "type": "quantitative", "scale": {"domain": [0, 200]}, "axis": {"values": [0, 50, 100, 150, 200], "title": "Window size"}},
    "y": {"field": "mae", "type": "quantitative", "scale": {"domain": [0.143, 0.643], "nice": false, "zero": false}, "axis": {"orient": "right", "values": [0.2, 0.4, 0.6], "format": ".6~g", "title": "MAE", "titleAngle": 270, "titleBaseline": "top"}},
    "color": {"datum": "MAE", "type": "nominal", "scale": {"domain": ["RMSE", "MAE"], "range": ["#2445ff", "#ff2d2d"]}, "legend": {"title": null, "legendX": 140, "legendY": 0}}}}
 ], "resolve": {"scale": {"y": "independent"}}}
]
}
